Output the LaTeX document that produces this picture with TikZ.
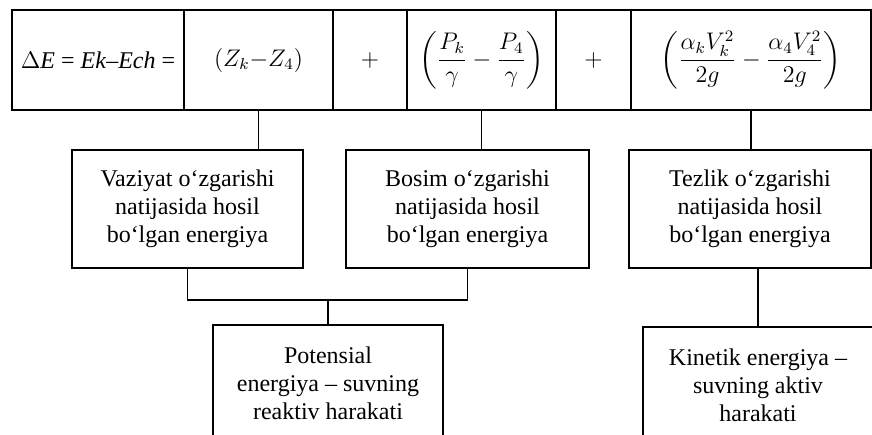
\documentclass[tikz,border=0pt]{standalone}
\usepackage{fontspec}
\setmainfont{Liberation Serif}
\usepackage{amsmath}
\usepackage{tikz}
\usetikzlibrary{positioning}

\begin{document}
\begin{tikzpicture}[
  x=0.5pt,y=-0.5pt,
  every node/.style={font=\fontsize{12}{14}\selectfont},
  cell/.style={draw,line width=0.9pt,outer sep=0pt,inner sep=0pt,
    minimum height=50pt,align=center,font=\large},
  box/.style={draw,line width=0.9pt,inner sep=2pt,
    minimum height=59pt,align=center},
  lower/.style={box,minimum height=58pt},
  link/.style={line width=0.9pt}
]
  \clip (0,0) rectangle (872,434);
  % top row: the formula
  \node[cell,minimum width=86pt] (c0) at (98,60)
    {$\Delta$\textit{E} = \textit{Ek}--\textit{Ech} =};
  \node[cell,minimum width=74.5pt,right=0pt of c0] (c1) {$(Z_k{-}Z_4)$};
  \node[cell,minimum width=37pt,right=0pt of c1] (c2) {$+$};
  \node[cell,minimum width=74.5pt,right=0pt of c2] (c3)
    {$\left(\dfrac{P_k}{\gamma} - \dfrac{P_4}{\gamma}\right)$};
  \node[cell,minimum width=37.5pt,right=0pt of c3] (c4) {$+$};
  \node[cell,minimum width=120pt,right=0pt of c4] (c5)
    {$\left(\dfrac{\alpha_k V_k^2}{2g} - \dfrac{\alpha_4 V_4^2}{2g}\right)$};
  % middle row
  \node[box,minimum width=115.5pt] (vaz) at (187.5,209)
    {Vaziyat o‘zgarishi\\natijasida hosil\\bo‘lgan energiya};
  \node[box,minimum width=121.5pt] (bos) at (467.5,209)
    {Bosim o‘zgarishi\\natijasida hosil\\bo‘lgan energiya};
  \node[box,minimum width=121pt] (tez) at (750,209)
    {Tezlik o‘zgarishi\\natijasida hosil\\bo‘lgan energiya};
  % bottom row
  \node[lower,minimum width=115pt] (pot) at (328,383)
    {Potensial\\energiya -- suvning\\reaktiv harakati};
  \node[lower,minimum width=115pt] (kin) at (758,385)
    {Kinetik energiya --\\suvning aktiv\\harakati};
  \foreach \x/\y in {c1/vaz,c3/bos,c5/tez}
    {\draw[link] (\x.south) -- (\x.south |- \y.north);}
  \path (vaz.south) ++(0,31) coordinate (join);
  \draw[link] (vaz.south) -- (join) -| (bos.south);
  \draw[link] (pot.north |- join) -- (pot.north);
  \draw[link] (kin.north |- tez.south) -- (kin.north);
\end{tikzpicture}
\end{document}
